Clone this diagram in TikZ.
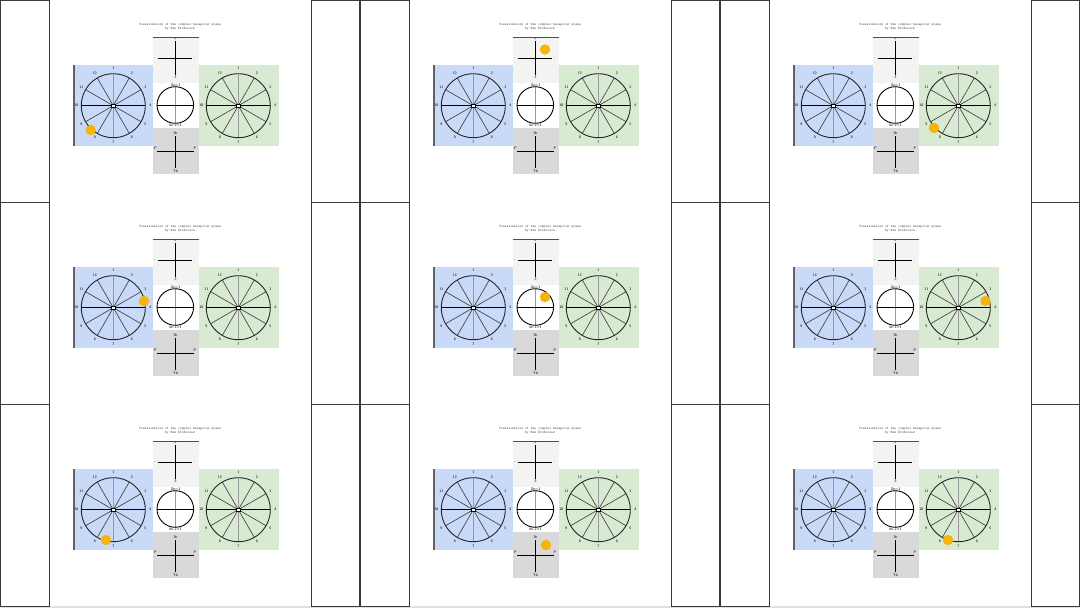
\documentclass[tikz,border=0pt]{standalone}
\usetikzlibrary{calc}
\definecolor{bluebg}{HTML}{C9DAF8}
\definecolor{greenbg}{HTML}{D9EAD3}
\definecolor{topbg}{HTML}{F3F3F1}
\definecolor{botbg}{HTML}{D9D9D9}
\definecolor{dotc}{HTML}{F6B40A}
\definecolor{framec}{HTML}{3A3A3A}
\definecolor{topline}{HTML}{5A4A44}
\tikzset{
  strip/.style={draw=framec,line width=1pt,fill=white},
  spoke/.style={line width=0.65pt,black!75},
  axisdark/.style={line width=1.2pt,black},
  axislight/.style={line width=1.2pt,black!40},
  lab/.style={font=\fontsize{3.6}{3.6}\selectfont\sffamily\bfseries,inner sep=0pt,text=black!80},
  ttl/.style={font=\fontsize{3.5}{4.2}\selectfont\ttfamily,text=black!70,align=center,inner sep=0pt},
  hexdot/.style={fill=dotc,draw=none},
  hub/.style={draw=black,fill=white,line width=0.6pt,minimum size=3.5pt,inner sep=0pt,rectangle},
}
% wheel: id, cx, cy, style of vertical axis
\newcommand\hexwheel[4]{%
  \foreach \a in {30,60,120,150,210,240,300,330}
    \draw[spoke] (#2,#3) -- ++(\a:32);
  \draw[axisdark] (#2-32,#3) -- (#2+32,#3);
  \draw[#4] (#2,#3-32) -- (#2,#3+32);
  \draw[line width=0.9pt,black!85] (#2,#3) circle[radius=32];
  \node[hub] (#1c) at (#2,#3) {};
  \foreach \a/\t [count=\i] in {90/1,60/2,30/3,0/4,-30/5,-60/6,-90/7,-120/8,-150/9,180/10,150/11,120/12}
    \node[lab] (#1l\i) at ($(#2,#3)+(-\a:37)$) {\t};
}
% one cell: x offset, y offset, dot x, dot y, id
\newcommand\hexcell[5]{%
  \begin{scope}[shift={(#1,#2)}]
    \draw[strip] (0.8,0.6) rectangle (49,202);
    \draw[strip] (311,0.6) rectangle (359.4,202);
    \node[ttl] (#5title) at (180,26.5) {Visualization of the complex hexapolar plane\\by Ben Eltdorsok};
    % panels
    \fill[bluebg] (73,65) rectangle (153,146);
    \draw[framec!80,line width=1.6pt] (74,65) -- (74,146);
    \fill[greenbg] (199,65) rectangle (279,146);
    \fill[topbg] (153,37) rectangle (199,83);
    \draw[topline,line width=0.9pt] (153,37) -- (199,37);
    \fill[white] (153,83) rectangle (199,128);
    \fill[botbg] (153,128) rectangle (199,174);
    % wheels
    \hexwheel{#5L}{113.3}{105.7}{axislight}
    \hexwheel{#5R}{238.3}{105.7}{axislight}
    % top cross
    \coordinate (#5tt) at (175.5,41);
    \coordinate (#5tb) at (175.5,75);
    \coordinate (#5tl) at (158,58.5);
    \coordinate (#5tr) at (192,58.5);
    \draw[line width=1pt] (#5tt) -- (#5tb);
    \draw[line width=1pt] (#5tl) -- (#5tr);
    \node[lab] (#5ta) at (175.5,38.5) {+};
    \node[lab] (#5tc) at (175.5,77.5) {5};
    \node[lab] (#5td) at (155,58.5) {-};
    \node[lab] (#5te) at (195,58.5) {-};
    % middle circle
    \draw[axislight,line width=0.9pt] (175.3,87) -- (175.3,123);
    \draw[axisdark,line width=1pt] (157,105) -- (193.5,105);
    \draw[line width=0.9pt] (175.3,105) circle[radius=18.3];
    \node[lab] (#5ma) at (175.5,84.8) {Zn=1};
    \node[lab] (#5mb) at (175.5,125.2) {Im z=1};
    \node[lab] (#5mc) at (154.5,104) {-};
    % bottom cross
    \coordinate (#5bt) at (175.5,136);
    \coordinate (#5bb) at (175.5,168);
    \coordinate (#5bl) at (157,151);
    \coordinate (#5br) at (194,151);
    \draw[line width=1pt] (#5bt) -- (#5bb);
    \draw[line width=1pt] (#5bl) -- (#5br);
    \node[lab] (#5ba) at (175.5,133) {3h};
    \node[lab] (#5bc) at (175.5,171) {Th};
    \node[lab] (#5bd) at (155.5,148) {P};
    \node[lab] (#5be) at (195,148) {P};
    % moving dot
    \fill[hexdot] (#3,#4) circle[radius=5.2];
  \end{scope}
}
\begin{document}
\begin{tikzpicture}[x=1pt,y=-1pt]
  \useasboundingbox (0,0) rectangle (1080,608);
  \fill[white] (0,0) rectangle (1080,608);
  \fill[black!12] (0,606) rectangle (1080,608);
  \hexcell{0}{0}{90.7}{130}{a}
  \hexcell{360}{0}{185}{49.5}{b}
  \hexcell{720}{0}{214}{128}{c}
  \hexcell{0}{202}{144}{99}{d}
  \hexcell{360}{202}{185}{95}{e}
  \hexcell{720}{202}{265.5}{99}{f}
  \hexcell{0}{404}{106}{136}{g}
  \hexcell{360}{404}{186}{141}{h}
  \hexcell{720}{404}{228}{136}{i}
\end{tikzpicture}
\end{document}
